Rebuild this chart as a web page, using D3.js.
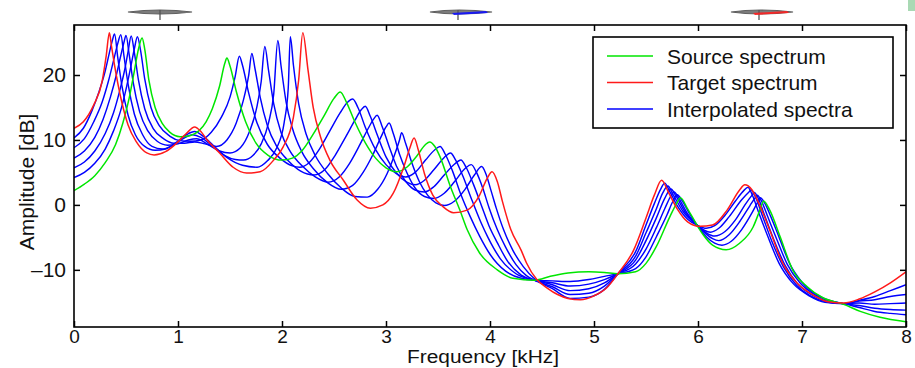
<!DOCTYPE html>
<html>
<head>
<meta charset="utf-8">
<script src="https://cdn.jsdelivr.net/npm/d3@7"></script>
<style>
  html, body { margin: 0; padding: 0; background: #fff; }
  svg { display: block; }
  text { font-family: "Liberation Sans", Arial, Helvetica, sans-serif; fill: #111; }
</style>
</head>
<body>
<svg id="chart" width="915" height="368"></svg>
<script>
// ---------------- data ----------------
const xTicks = [0, 1, 2, 3, 4, 5, 6, 7, 8];
const yTicks = [-10, 0, 10, 20];
const xDomain = [0, 8];
const yDomain = [-18.8, 27.7];
const legendLabels = ["Source spectrum", "Target spectrum", "Interpolated spectra"];

// [frequency kHz, amplitude dB]
const sourceSpectrum = [
  [0, 2.2], [0.1, 3.2], [0.2, 4.5], [0.3, 6.5], [0.4, 9.3], [0.47, 12.6], [0.53, 16.4], [0.58, 20.6],
  [0.62, 24.0], [0.655, 25.7], [0.68, 24.0], [0.72, 19.2], [0.78, 15.0], [0.85, 12.5], [0.92, 11.2],
  [1.02, 10.5], [1.12, 10.7], [1.2, 11.4], [1.27, 12.8], [1.33, 14.8], [1.4, 18.3], [1.45, 21.8],
  [1.47, 22.6], [1.5, 21.4], [1.56, 17.5], [1.65, 12.8], [1.75, 9.5], [1.87, 7.6], [2.0, 6.9],
  [2.1, 7.2], [2.2, 8.5], [2.3, 10.9], [2.4, 13.6], [2.5, 16.4], [2.56, 17.4], [2.62, 15.8],
  [2.7, 12.8], [2.8, 9.6], [2.9, 7.2], [3.0, 5.7], [3.1, 5.1], [3.2, 5.8], [3.3, 7.6], [3.38, 9.3],
  [3.42, 9.7], [3.47, 9.0], [3.52, 7.4], [3.62, 2.8], [3.71, -0.8], [3.78, -3.8], [3.9, -7.4],
  [4.07, -10.0], [4.22, -11.3], [4.43, -11.6], [4.58, -11.0], [4.75, -10.5], [4.95, -10.3],
  [5.1, -10.4], [5.23, -10.6], [5.4, -10.3], [5.5, -9.0], [5.6, -6.4], [5.73, -1.8], [5.8, 0.4],
  [5.83, 1.1], [5.9, -0.6], [5.99, -3.1], [6.05, -4.6], [6.14, -6.2], [6.27, -6.9], [6.4, -5.9],
  [6.53, -3.4], [6.6, -0.6], [6.63, 0.6], [6.69, -0.8], [6.79, -4.9], [6.91, -10.0], [7.05, -12.6],
  [7.2, -14.3], [7.4, -15.3], [7.56, -16.4], [7.75, -17.3], [8.0, -18.0]
];

const targetSpectrum = [
  [0, 11.8], [0.09, 12.8], [0.19, 15.4], [0.27, 19.0], [0.31, 23.0], [0.34, 26.5], [0.36, 24.5],
  [0.39, 21.5], [0.46, 15.8], [0.52, 12.3], [0.6, 9.7], [0.7, 8.0], [0.77, 7.7], [0.88, 8.2],
  [0.98, 9.4], [1.08, 11.0], [1.16, 12.0], [1.22, 11.3], [1.28, 10.0], [1.4, 8.0], [1.53, 5.8],
  [1.66, 4.9], [1.79, 5.1], [1.92, 6.9], [2.01, 8.9], [2.11, 13.5], [2.16, 19.2], [2.2, 26.5],
  [2.25, 20.8], [2.3, 15.0], [2.37, 10.5], [2.46, 6.9], [2.59, 3.8], [2.72, 0.8], [2.85, -0.5],
  [2.97, 0.0], [3.07, 1.8], [3.17, 5.8], [3.23, 8.8], [3.27, 10.3], [3.31, 8.5], [3.37, 4.8],
  [3.45, 1.5], [3.55, -0.3], [3.65, -1.2], [3.78, -0.8], [3.9, 1.5], [3.97, 4.0], [4.02, 5.1],
  [4.07, 3.6], [4.12, 0.5], [4.2, -3.8], [4.3, -7.0], [4.35, -8.9], [4.45, -11.5], [4.55, -12.8],
  [4.65, -13.8], [4.75, -14.4], [4.87, -14.6], [5.0, -14.0], [5.12, -12.8], [5.23, -10.6],
  [5.38, -7.0], [5.5, -2.0], [5.58, 1.5], [5.65, 3.8], [5.72, 1.8], [5.8, -0.6], [5.9, -2.6],
  [6.02, -3.3], [6.14, -3.1], [6.28, -0.8], [6.4, 2.3], [6.45, 3.1], [6.52, 2.3], [6.6, -0.3],
  [6.7, -4.3], [6.8, -8.5], [6.95, -12.0], [7.1, -13.8], [7.25, -14.9], [7.4, -15.1],
  [7.55, -14.5], [7.7, -13.4], [7.85, -12.0], [8.0, -10.3]
];

const interp1 = [
  [0, 4.2], [0.1, 5.0], [0.2, 6.4], [0.3, 8.6], [0.38, 11.4], [0.45, 14.6], [0.5, 17.8], [0.54, 20.8],
  [0.58, 24.0], [0.61, 25.9], [0.64, 23.8], [0.68, 19.4], [0.74, 15.0], [0.82, 12.2], [0.92, 10.6],
  [1.02, 9.9], [1.12, 9.8], [1.22, 10.0], [1.32, 11.2], [1.42, 13.6], [1.5, 16.6], [1.55, 19.8],
  [1.59, 22.9], [1.62, 21.5], [1.68, 17.2], [1.76, 12.6], [1.86, 9.3], [1.98, 7.2], [2.1, 6.0],
  [2.17, 5.8], [2.26, 6.5], [2.36, 8.6], [2.46, 11.4], [2.56, 14.2], [2.63, 15.8], [2.68, 16.3],
  [2.73, 15.0], [2.8, 12.0], [2.9, 8.5], [3.0, 6.2], [3.1, 4.8], [3.19, 4.3], [3.28, 5.0],
  [3.38, 6.9], [3.47, 8.5], [3.52, 9.0], [3.57, 7.8], [3.64, 5.2], [3.72, 1.6], [3.81, -1.8],
  [3.9, -4.8], [4.0, -7.6], [4.15, -10.2], [4.3, -11.3], [4.43, -11.6], [4.6, -11.7], [4.77, -11.8],
  [4.95, -11.5], [5.1, -11.0], [5.23, -10.6], [5.4, -9.8], [5.5, -8.0], [5.6, -4.9], [5.7, -1.6],
  [5.76, 0.6], [5.8, 1.55], [5.85, 0.6], [5.92, -1.4], [5.99, -3.1], [6.08, -4.9], [6.16, -5.9],
  [6.23, -6.2], [6.32, -5.6], [6.42, -3.8], [6.52, -1.2], [6.58, 0.6], [6.6, 1.1], [6.64, 0.3],
  [6.7, -1.8], [6.78, -5.0], [6.88, -9.0], [7.0, -11.9], [7.15, -13.9], [7.28, -14.8], [7.4, -15.2],
  [7.55, -15.8], [7.7, -16.4], [7.85, -16.7], [8.0, -16.9]
];

const interp2 = [
  [0, 5.7], [0.1, 6.6], [0.2, 8.3], [0.3, 11.0], [0.38, 14.2], [0.44, 17.6], [0.49, 21.0], [0.52, 23.6],
  [0.55, 26.0], [0.58, 23.5], [0.62, 19.2], [0.68, 14.8], [0.76, 11.8], [0.86, 10.2], [0.96, 9.5],
  [1.06, 9.5], [1.16, 9.7], [1.26, 9.4], [1.37, 9.0], [1.47, 10.0], [1.56, 12.6], [1.63, 16.2],
  [1.68, 20.0], [1.71, 23.3], [1.74, 21.0], [1.79, 16.6], [1.86, 12.2], [1.95, 9.0], [2.06, 6.8],
  [2.18, 5.2], [2.31, 4.6], [2.41, 5.4], [2.51, 7.6], [2.61, 10.4], [2.7, 13.0], [2.76, 14.6],
  [2.8, 15.2], [2.85, 13.6], [2.92, 10.6], [3.0, 7.4], [3.1, 4.9], [3.2, 3.5], [3.28, 3.1],
  [3.37, 3.8], [3.46, 5.4], [3.56, 7.3], [3.62, 8.0], [3.67, 6.9], [3.74, 4.4], [3.82, 1.0],
  [3.91, -2.6], [3.98, -5.0], [4.1, -8.3], [4.25, -10.6], [4.43, -11.6], [4.6, -12.0], [4.77, -12.5],
  [4.95, -12.2], [5.1, -11.5], [5.23, -10.6], [5.4, -9.1], [5.5, -6.8], [5.6, -3.5], [5.68, -0.6],
  [5.74, 1.4], [5.77, 2.0], [5.82, 0.9], [5.9, -1.4], [5.99, -3.1], [6.08, -4.5], [6.14, -5.2],
  [6.2, -5.5], [6.3, -4.6], [6.4, -2.6], [6.5, -0.1], [6.55, 1.1], [6.57, 1.5], [6.61, 0.6],
  [6.67, -1.8], [6.76, -5.4], [6.86, -9.2], [6.98, -12.0], [7.13, -13.9], [7.27, -14.8], [7.4, -15.2],
  [7.55, -15.5], [7.7, -15.9], [7.85, -16.1], [8.0, -16.2]
];

const interp3 = [
  [0, 7.2], [0.1, 8.3], [0.2, 10.4], [0.28, 13.2], [0.35, 16.6], [0.41, 20.2], [0.45, 23.0], [0.48, 25.0],
  [0.5, 26.1], [0.53, 23.2], [0.57, 18.8], [0.63, 14.4], [0.71, 11.4], [0.8, 9.8], [0.9, 9.2],
  [1.0, 9.4], [1.1, 10.0], [1.18, 10.2], [1.28, 9.4], [1.4, 8.3], [1.5, 8.0], [1.6, 8.8], [1.69, 11.4],
  [1.76, 15.2], [1.8, 19.0], [1.835, 24.4], [1.87, 20.8], [1.92, 15.6], [1.99, 11.2], [2.08, 8.2],
  [2.2, 5.9], [2.32, 4.3], [2.44, 3.5], [2.55, 4.3], [2.65, 6.4], [2.74, 9.0], [2.83, 11.8],
  [2.88, 13.2], [2.915, 13.8], [2.96, 12.2], [3.03, 9.0], [3.1, 6.0], [3.19, 3.6], [3.28, 2.3],
  [3.37, 2.0], [3.46, 2.8], [3.56, 4.6], [3.66, 6.3], [3.72, 6.9], [3.77, 5.8], [3.84, 3.2],
  [3.92, -0.2], [3.99, -3.2], [4.07, -5.8], [4.17, -8.7], [4.3, -10.8], [4.43, -11.6], [4.6, -12.3],
  [4.77, -13.2], [4.95, -12.9], [5.1, -12.0], [5.23, -10.6], [5.4, -8.5], [5.5, -5.5], [5.6, -2.0],
  [5.68, 1.0], [5.74, 2.45], [5.79, 1.3], [5.88, -1.2], [5.99, -3.1], [6.08, -4.3], [6.16, -4.8],
  [6.26, -4.1], [6.36, -2.3], [6.46, 0.2], [6.52, 1.5], [6.54, 1.9], [6.58, 1.0], [6.64, -1.6],
  [6.73, -5.4], [6.84, -9.4], [6.96, -12.2], [7.1, -13.9], [7.25, -14.9], [7.4, -15.2],
  [7.55, -15.1], [7.7, -15.3], [7.85, -15.2], [8.0, -15.1]
];

const interp4 = [
  [0, 8.8], [0.1, 10.2], [0.19, 12.8], [0.27, 15.8], [0.33, 19.0], [0.38, 22.2], [0.42, 24.8],
  [0.45, 26.2], [0.48, 23.0], [0.52, 18.6], [0.58, 14.0], [0.66, 10.8], [0.75, 9.0], [0.85, 8.6],
  [0.95, 9.2], [1.05, 10.2], [1.14, 10.8], [1.22, 10.4], [1.32, 9.2], [1.45, 7.6], [1.55, 7.0],
  [1.63, 6.9], [1.72, 7.6], [1.8, 9.4], [1.87, 12.6], [1.92, 17.0], [1.96, 25.3], [1.99, 21.5],
  [2.04, 15.8], [2.1, 11.8], [2.19, 8.2], [2.3, 5.6], [2.44, 3.4], [2.57, 2.4], [2.68, 3.0],
  [2.78, 5.0], [2.87, 7.6], [2.95, 10.4], [3.0, 12.0], [3.03, 12.6], [3.07, 11.0], [3.13, 7.8],
  [3.2, 5.0], [3.28, 2.6], [3.37, 1.3], [3.46, 1.0], [3.56, 1.8], [3.66, 3.6], [3.76, 5.6],
  [3.82, 6.2], [3.87, 5.0], [3.93, 2.6], [3.99, -0.4], [4.07, -3.8], [4.15, -6.5], [4.25, -9.2],
  [4.35, -10.9], [4.43, -11.6], [4.6, -12.6], [4.77, -13.8], [4.95, -13.6], [5.1, -12.5],
  [5.23, -10.6], [5.4, -7.9], [5.5, -4.3], [5.6, -0.6], [5.66, 1.8], [5.71, 2.9], [5.76, 1.6],
  [5.86, -1.1], [5.99, -3.1], [6.06, -3.9], [6.12, -4.2], [6.2, -3.6], [6.3, -1.8], [6.42, 0.8],
  [6.49, 2.0], [6.51, 2.3], [6.55, 1.3], [6.62, -1.7], [6.71, -5.6], [6.82, -9.5], [6.95, -12.4],
  [7.08, -14.0], [7.23, -14.9], [7.4, -15.2], [7.55, -14.8], [7.7, -14.6], [7.85, -14.1], [8.0, -13.8]
];

const interp5 = [
  [0, 10.3], [0.09, 11.8], [0.17, 14.4], [0.24, 17.4], [0.3, 20.6], [0.34, 23.4], [0.37, 25.4],
  [0.39, 26.3], [0.42, 22.8], [0.46, 18.4], [0.52, 13.8], [0.59, 10.8], [0.68, 9.0], [0.78, 8.4],
  [0.88, 8.6], [0.98, 9.6], [1.08, 10.8], [1.16, 11.3], [1.24, 10.6], [1.35, 9.0], [1.48, 7.2],
  [1.62, 6.1], [1.76, 5.8], [1.86, 6.8], [1.95, 8.8], [2.02, 12.6], [2.06, 18.0], [2.08, 25.9],
  [2.11, 21.5], [2.16, 15.6], [2.23, 11.0], [2.32, 7.6], [2.44, 4.8], [2.57, 2.6], [2.7, 1.3],
  [2.82, 1.2], [2.92, 2.4], [3.01, 4.8], [3.08, 7.6], [3.13, 10.0], [3.15, 11.1], [3.19, 9.4],
  [3.25, 6.4], [3.32, 3.6], [3.4, 1.5], [3.48, 0.3], [3.56, -0.1], [3.66, 0.6], [3.76, 2.4],
  [3.85, 4.6], [3.92, 5.9], [3.96, 4.8], [4.01, 2.2], [4.06, -0.5], [4.13, -3.8], [4.22, -7.0],
  [4.32, -9.5], [4.43, -11.4], [4.6, -12.9], [4.77, -14.4], [4.95, -14.2], [5.1, -13.0],
  [5.23, -10.6], [5.4, -7.2], [5.5, -3.1], [5.58, 0.2], [5.64, 2.4], [5.68, 3.35], [5.73, 2.0],
  [5.8, -0.1], [5.9, -2.2], [5.99, -3.1], [6.08, -3.6], [6.16, -3.2], [6.26, -1.6], [6.36, 0.6],
  [6.44, 2.2], [6.48, 2.7], [6.52, 1.6], [6.58, -1.0], [6.67, -4.8], [6.78, -9.0], [6.92, -12.2],
  [7.07, -14.0], [7.22, -15.0], [7.4, -15.2], [7.55, -14.7], [7.7, -14.1], [7.85, -13.2], [8.0, -12.3]
];

const interpolatedSpectra = [interp1, interp2, interp3, interp4, interp5];

// ---------------- drawing ----------------
const svg = d3.select("#chart");
const L = 74, R = 906, T = 25, B = 327;

const x = d3.scaleLinear().domain(xDomain).range([L, R]);
const y = d3.scaleLinear().domain(yDomain).range([B, T]);

svg.append("defs").append("clipPath").attr("id", "plotclip")
  .append("rect").attr("x", L).attr("y", T).attr("width", R - L).attr("height", B - T);

// stray fragments of the figure above (cropped at the top edge)
const frag = svg.append("g").attr("class", "fragments");
[[128, 192, 160, null], [430, 492, 458, "#1010ff"], [731, 793, 759, "#ff2020"]].forEach(([a, b, c, col]) => {
  frag.append("path").attr("d", `M${a},12 Q${c},8 ${b},12 Q${c},16 ${a},12 Z`)
    .attr("fill", "#666").attr("stroke", "#444").attr("stroke-width", 1.2).attr("opacity", 0.85);
  frag.append("line").attr("x1", c).attr("x2", c).attr("y1", 10).attr("y2", 20)
    .attr("stroke", "#555").attr("stroke-width", 1.3);
  if (col) {
    frag.append("path").attr("d", `M${c - 6},13 L${c + 28},11 L${c + 30},13 L${c - 4},15 Z`)
      .attr("fill", col).attr("opacity", 0.9);
  }
});
svg.append("rect").attr("x", 908).attr("y", 0).attr("width", 7).attr("height", 11).attr("fill", "#a9d9b4");

const line = d3.line()
  .x(d => x(d[0]))
  .y(d => y(d[1]))
  .curve(d3.curveMonotoneX);

const plot = svg.append("g").attr("clip-path", "url(#plotclip)");

plot.selectAll("path.interp").data(interpolatedSpectra).join("path")
  .attr("class", "interp")
  .attr("d", line)
  .attr("fill", "none")
  .attr("stroke", "#0000ff")
  .attr("stroke-width", 1.45);

plot.append("path").datum(sourceSpectrum)
  .attr("d", line).attr("fill", "none").attr("stroke", "#00e600").attr("stroke-width", 1.5);

plot.append("path").datum(targetSpectrum)
  .attr("d", line).attr("fill", "none").attr("stroke", "#ff1a1a").attr("stroke-width", 1.5);

// axes (MATLAB style: inward ticks on all four sides)
const tickLen = 6;
const gB = svg.append("g").attr("transform", `translate(0,${B})`)
  .call(d3.axisBottom(x).tickValues(xTicks).tickFormat(d3.format("d")).tickSize(-tickLen).tickPadding(2));
const gT = svg.append("g").attr("transform", `translate(0,${T})`)
  .call(d3.axisTop(x).tickValues(xTicks).tickFormat("").tickSize(-tickLen));
const gL = svg.append("g").attr("transform", `translate(${L},0)`)
  .call(d3.axisLeft(y).tickValues(yTicks).tickFormat(d => d < 0 ? "\u2013" + Math.abs(d) : d).tickSize(-tickLen).tickPadding(8));
const gR = svg.append("g").attr("transform", `translate(${R},0)`)
  .call(d3.axisRight(y).tickValues(yTicks).tickFormat("").tickSize(-tickLen));

[gB, gT, gL, gR].forEach(g => {
  g.select(".domain").remove();
  g.selectAll(".tick line").attr("stroke", "#000").attr("stroke-width", 1.5);
  g.selectAll("text").attr("font-size", 21).attr("font-family", "Liberation Sans, Arial, sans-serif").attr("fill", "#111");
});
gB.selectAll("text").attr("font-size", 19);

svg.append("rect")
  .attr("x", L).attr("y", T).attr("width", R - L).attr("height", B - T)
  .attr("fill", "none").attr("stroke", "#000").attr("stroke-width", 1.6);

// axis titles
svg.append("text")
  .attr("x", 483).attr("y", 363)
  .attr("text-anchor", "middle").attr("font-size", 18)
  .attr("textLength", 152).attr("lengthAdjust", "spacingAndGlyphs")
  .text("Frequency [kHz]");

svg.append("text")
  .attr("transform", "translate(34,182) rotate(-90)")
  .attr("text-anchor", "middle").attr("font-size", 21)
  .text("Amplitude [dB]");

// legend
const lg = svg.append("g");
lg.append("rect").attr("x", 593).attr("y", 37).attr("width", 300).attr("height", 91)
  .attr("fill", "#fff").attr("stroke", "#000").attr("stroke-width", 1.6);
const legendColors = ["#00e600", "#ff1a1a", "#0000ff"];
const rowY = d3.scalePoint().domain(legendLabels).range([56, 109]);
legendLabels.forEach((lab, i) => {
  const yy = rowY(lab);
  lg.append("line").attr("x1", 607).attr("x2", 653).attr("y1", yy).attr("y2", yy)
    .attr("stroke", legendColors[i]).attr("stroke-width", 1.6);
  lg.append("text").attr("x", 667).attr("y", yy + 7.5).attr("font-size", 21).text(lab);
});
</script>
</body>
</html>
